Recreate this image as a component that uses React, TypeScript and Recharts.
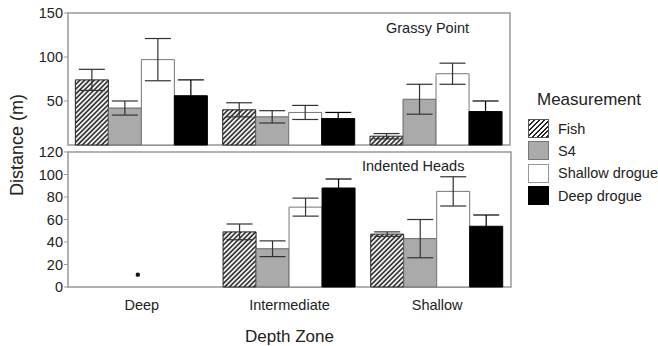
import React from 'react';
import {
  BarChart,
  ComposedChart,
  Bar,
  Scatter,
  XAxis,
  YAxis,
  ErrorBar,
  ReferenceArea
} from 'recharts';

const FONT = '"Liberation Sans", Arial, Helvetica, sans-serif';
const TEXT = '#222';
const FRAME = '#999';

const categories = ['Deep', 'Intermediate', 'Shallow'];

// Grassy Point (top panel)
const grassyFish = [74, 40, 10];
const grassyFishErr = [12, 8, 3];
const grassyS4 = [42, 32, 52];
const grassyS4Err = [8, 7, 17];
const grassyShallow = [97, 37, 81];
const grassyShallowErr = [24, 8, 12];
const grassyDeep = [56, 30, 38];
const grassyDeepErr = [18, 7, 12];

// Indented Heads (bottom panel)
const indentedFish = [null, 49, 47];
const indentedFishErr = [null, 7, 2];
const indentedS4 = [null, 34, 43];
const indentedS4Err = [null, 7, 17];
const indentedShallow = [null, 71, 85];
const indentedShallowErr = [null, 8, 13];
const indentedDeep = [null, 88, 54];
const indentedDeepErr = [null, 8, 10];
const indentedDot = [11, null, null];

const topTicks = [50, 100, 150];
const bottomTicks = [0, 20, 40, 60, 80, 100, 120];

const seriesNames = ['Fish', 'S4', 'Shallow drogue', 'Deep drogue'];

const grassyData = categories.map((cat, i) => ({
  cat,
  fish: grassyFish[i], fishErr: grassyFishErr[i],
  s4: grassyS4[i], s4Err: grassyS4Err[i],
  shallow: grassyShallow[i], shallowErr: grassyShallowErr[i],
  deep: grassyDeep[i], deepErr: grassyDeepErr[i]
}));

const indentedData = categories.map((cat, i) => ({
  cat,
  fish: indentedFish[i], fishErr: indentedFishErr[i],
  s4: indentedS4[i], s4Err: indentedS4Err[i],
  shallow: indentedShallow[i], shallowErr: indentedShallowErr[i],
  deep: indentedDeep[i], deepErr: indentedDeepErr[i],
  dot: indentedDot[i]
}));

const tickStyle = { fontSize: 14.5, fill: TEXT, fontFamily: FONT };

const Hatch = ({ id }: { id: string }) => (
  <defs>
    <pattern id={id} patternUnits="userSpaceOnUse" width="3.4" height="3.4" patternTransform="rotate(45)">
      <rect width="3.4" height="3.4" fill="#fff" />
      <line x1="1" y1="0" x2="1" y2="3.4" stroke="#222" strokeWidth="1.6" />
    </pattern>
  </defs>
);

const errProps = { width: 13, stroke: '#333', strokeWidth: 1.2 };

const renderBars = (hatchId: string) => [
  <Bar key="fish" dataKey="fish" name="Fish" fill={`url(#${hatchId})`} stroke="#222" strokeWidth={1} isAnimationActive={false}>
    <ErrorBar dataKey="fishErr" {...errProps} />
  </Bar>,
  <Bar key="s4" dataKey="s4" name="S4" fill="#aaaaaa" stroke="#666" strokeWidth={1} isAnimationActive={false}>
    <ErrorBar dataKey="s4Err" {...errProps} />
  </Bar>,
  <Bar key="shallow" dataKey="shallow" name="Shallow drogue" fill="#fff" stroke="#777" strokeWidth={1} isAnimationActive={false}>
    <ErrorBar dataKey="shallowErr" {...errProps} />
  </Bar>,
  <Bar key="deep" dataKey="deep" name="Deep drogue" fill="#000" stroke="#000" strokeWidth={1} isAnimationActive={false}>
    <ErrorBar dataKey="deepErr" {...errProps} stroke="#000" />
  </Bar>
];

const swatchStyles: React.CSSProperties[] = [
  { background: 'repeating-linear-gradient(135deg, #222 0 1.4px, #fff 1.4px 3.4px)', border: '1px solid #555' },
  { background: '#aaaaaa', border: '1px solid #777' },
  { background: '#fff', border: '1px solid #999' },
  { background: '#000', border: '1px solid #000' }
];

const App: React.FC = () => {
  return (
    <div style={{ position: 'absolute', left: 0, top: 0, width: 658, height: 346, background: '#fff', fontFamily: FONT, color: TEXT }}>
      <div style={{ position: 'absolute', left: 0, top: 0 }}>
        <BarChart
          width={658}
          height={150}
          data={grassyData}
          margin={{ top: 13, right: 148, bottom: 5, left: 8 }}
          barCategoryGap="5%"
          barGap={0}
        >
          <Hatch id="hatchTop" />
          <XAxis dataKey="cat" hide />
          <YAxis
            width={60}
            domain={[0, 150]}
            ticks={topTicks}
            axisLine={false}
            tickSize={4}
            tickMargin={1}
            tickLine={{ stroke: FRAME }}
            tick={tickStyle}
          />
          <ReferenceArea y1={0} y2={150} fill="none" stroke={FRAME} strokeWidth={1.5} fillOpacity={0} />
          {renderBars('hatchTop')}
        </BarChart>
      </div>
      <div style={{ position: 'absolute', left: 0, top: 140 }}>
        <ComposedChart
          width={658}
          height={206}
          data={indentedData}
          margin={{ top: 12, right: 147, bottom: 2, left: 8 }}
          barCategoryGap="5%"
          barGap={0}
        >
          <Hatch id="hatchBottom" />
          <XAxis
            dataKey="cat"
            height={57}
            axisLine={false}
            tickLine={false}
            tickMargin={7}
            tick={tickStyle}
            label={{ value: 'Depth Zone', position: 'insideBottom', offset: 2, style: { fontSize: 17, fill: TEXT, fontFamily: FONT } }}
          />
          <YAxis
            width={60}
            domain={[0, 120]}
            ticks={bottomTicks}
            axisLine={false}
            tickSize={4}
            tickMargin={1}
            tickLine={{ stroke: FRAME }}
            tick={tickStyle}
          />
          <ReferenceArea y1={0} y2={120} fill="none" stroke={FRAME} strokeWidth={1.5} fillOpacity={0} />
          {renderBars('hatchBottom')}
          <Scatter
            dataKey="dot"
            fill="#111"
            isAnimationActive={false}
            shape={(p: any) =>
              p.cx == null || p.cy == null || isNaN(p.cx) || isNaN(p.cy) || p.payload?.dot == null ? (
                <g />
              ) : (
                <circle cx={p.cx - 4} cy={p.cy} r={2.2} fill="#111" />
              )
            }
          />
        </ComposedChart>
      </div>

      {/* panel titles */}
      <div style={{ position: 'absolute', left: 386, top: 19, fontSize: 14.5, lineHeight: '18px' }}>Grassy Point</div>
      <div style={{ position: 'absolute', left: 362, top: 157, fontSize: 14.5, lineHeight: '18px' }}>Indented Heads</div>

      {/* y axis title */}
      <div
        style={{
          position: 'absolute',
          left: 17,
          top: 145,
          transform: 'translate(-50%, -50%) rotate(-90deg)',
          whiteSpace: 'nowrap',
          fontSize: 18,
          lineHeight: '20px'
        }}
      >
        Distance (m)
      </div>

      {/* legend */}
      <div style={{ position: 'absolute', left: 537, top: 90, fontSize: 17, lineHeight: '20px' }}>Measurement</div>
      {seriesNames.map((name, i) => (
        <div key={name} style={{ position: 'absolute', left: 528, top: 119 + i * 22.4, height: 19, display: 'flex', alignItems: 'center' }}>
          <div style={{ width: 19, height: 17, boxSizing: 'content-box', ...swatchStyles[i] }} />
          <span style={{ marginLeft: 9, fontSize: 14.5, whiteSpace: 'nowrap' }}>{name}</span>
        </div>
      ))}
    </div>
  );
};

export default App;
